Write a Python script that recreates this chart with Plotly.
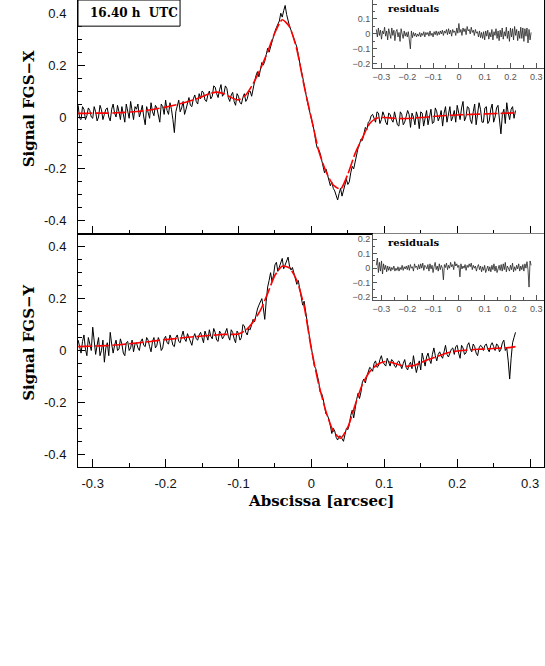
import numpy as np
import plotly.graph_objects as go

# sample grids: scans every 2 mas, residuals every 4 mas, fitted model every 10 mas
X_START, X_STEP = -0.32, 0.002
RES_START, RES_STEP = -0.32, 0.004
FIT_START, FIT_STEP = -0.32, 0.01

fgs_x = [
    0.045, -0.005, -0.01, 0.04, 0.03, -0.01, 0.005, 0.035, 0.025, 0.0,
    -0.005, 0.04, 0.02, -0.015, 0.0, 0.045, 0.028, -0.01, 0.01, 0.03,
    0.035, 0.0, -0.015, 0.03, 0.05, 0.015, 0.0, 0.045, 0.02, -0.01,
    0.04, 0.015, -0.02, 0.05, 0.025, -0.005, 0.06, 0.02, -0.01, 0.04,
    0.03, 0.05, 0.0, 0.02, 0.045, 0.0, -0.03, 0.04, 0.02, -0.005,
    0.055, 0.02, 0.005, 0.045, 0.035, 0.0, -0.02, 0.05, 0.04, 0.01,
    0.065, 0.025, 0.01, 0.055, 0.03, -0.01, -0.06, 0.02, 0.045, 0.065,
    0.02, 0.035, 0.06, 0.01, 0.03, 0.06, 0.075, 0.045, 0.04, 0.07,
    0.085, 0.06, 0.05, 0.09, 0.07, 0.1, 0.095, 0.065, 0.06, 0.085,
    0.1, 0.07, 0.08, 0.12, 0.115, 0.09, 0.075, 0.105, 0.125, 0.08,
    0.09, 0.12, 0.11, 0.075, 0.06, 0.085, 0.095, 0.06, 0.045, 0.09,
    0.08, 0.055, 0.05, 0.075, 0.09, 0.06, 0.07, 0.095, 0.1, 0.08,
    0.115, 0.135, 0.16, 0.175, 0.155, 0.19, 0.21, 0.2, 0.215, 0.24,
    0.265, 0.25, 0.27, 0.29, 0.32, 0.33, 0.345, 0.355, 0.37, 0.4,
    0.385, 0.41, 0.43, 0.395, 0.365, 0.35, 0.335, 0.32, 0.305, 0.29,
    0.27, 0.24, 0.2, 0.18, 0.155, 0.12, 0.085, 0.065, 0.04, 0.015,
    -0.01, -0.03, -0.055, -0.095, -0.12, -0.125, -0.14, -0.165, -0.19, -0.215,
    -0.2, -0.22, -0.245, -0.265, -0.25, -0.275, -0.285, -0.3, -0.32, -0.295,
    -0.275, -0.305, -0.285, -0.255, -0.24, -0.26, -0.25, -0.215, -0.19, -0.2,
    -0.17, -0.14, -0.12, -0.105, -0.085, -0.09, -0.07, -0.04, -0.05, -0.02,
    -0.015, 0.005, 0.01, -0.01, -0.02, 0.02, 0.015, -0.025, -0.01, 0.02,
    0.005, -0.02, -0.03, 0.015, 0.01, -0.01, -0.02, 0.02, 0.0, -0.03,
    -0.035, 0.02, 0.01, -0.03, -0.02, 0.0, 0.025, 0.01, -0.04, 0.015,
    0.0, -0.03, 0.02, 0.0, -0.045, 0.02, 0.015, -0.035, -0.01, 0.025,
    -0.03, 0.005, 0.03, -0.025, -0.02, 0.035, 0.02, -0.015, 0.0, 0.025,
    -0.035, 0.015, 0.04, -0.02, 0.01, 0.04, -0.015, 0.0, 0.025, -0.02,
    0.045, 0.01, -0.01, 0.035, 0.06, -0.015, 0.0, 0.04, 0.035, -0.01,
    -0.025, 0.02, 0.05, -0.03, 0.005, 0.055, 0.03, -0.02, -0.02, 0.035,
    0.04, -0.025, -0.015, 0.03, 0.05, -0.02, 0.0, 0.035, 0.045, -0.01,
    -0.065, 0.01, 0.03, -0.025, 0.055, 0.015, -0.01, 0.03, 0.04, -0.005,
    0.025,
]

fgs_y = [
    0.04, 0.02, -0.01, 0.035, 0.06, 0.005, -0.02, 0.05, 0.03, 0.0,
    0.09, 0.03, -0.015, 0.02, 0.05, -0.02, 0.0, 0.04, -0.045, 0.01,
    0.03, -0.02, 0.07, 0.025, -0.01, 0.02, 0.04, 0.0, 0.005, 0.045,
    0.025, -0.01, -0.02, 0.03, 0.035, 0.0, 0.01, 0.04, -0.005, 0.025,
    0.03, 0.01, 0.0, 0.035, 0.045, 0.02, 0.015, 0.05, 0.04, 0.015,
    -0.005, 0.035, 0.05, 0.01, 0.02, 0.05, 0.035, 0.0, 0.01, 0.045,
    0.055, 0.03, 0.025, 0.06, 0.045, 0.02, 0.015, 0.05, 0.06, 0.035,
    0.03, 0.055, 0.075, 0.045, 0.035, 0.065, 0.05, 0.03, 0.02, 0.05,
    0.065, 0.045, 0.04, 0.06, 0.07, 0.05, 0.03, 0.075, 0.06, 0.04,
    0.08, 0.055, 0.045, 0.085, 0.07, 0.04, 0.035, 0.075, 0.065, 0.045,
    0.055, 0.07, 0.085, 0.055, 0.04, 0.08, 0.07, 0.045, 0.03, 0.075,
    0.065, 0.04, 0.05, 0.1, 0.095, 0.07, 0.06, 0.085, 0.08, 0.1,
    0.12, 0.11, 0.14, 0.16, 0.175, 0.19, 0.2, 0.165, 0.12, 0.19,
    0.245, 0.27, 0.3, 0.265, 0.29, 0.33, 0.34, 0.305, 0.325, 0.34,
    0.355, 0.315, 0.33, 0.345, 0.36, 0.325, 0.31, 0.32, 0.3, 0.275,
    0.255, 0.27, 0.24, 0.205, 0.175, 0.19, 0.15, 0.1, 0.06, 0.04,
    0.01, -0.035, -0.06, -0.07, -0.09, -0.12, -0.16, -0.165, -0.185, -0.22,
    -0.245, -0.25, -0.265, -0.29, -0.32, -0.3, -0.31, -0.335, -0.345, -0.33,
    -0.33, -0.34, -0.35, -0.325, -0.3, -0.305, -0.285, -0.25, -0.23, -0.26,
    -0.22, -0.19, -0.165, -0.185, -0.16, -0.12, -0.11, -0.125, -0.1, -0.08,
    -0.065, -0.07, -0.08, -0.05, -0.04, -0.065, -0.06, -0.035, -0.02, -0.045,
    -0.055, -0.06, -0.03, -0.045, -0.06, -0.035, -0.04, -0.06, -0.065, -0.045,
    -0.04, -0.055, -0.07, -0.05, -0.035, -0.065, -0.075, -0.055, -0.045, -0.07,
    -0.02, -0.055, -0.085, -0.06, -0.04, -0.075, -0.01, -0.035, -0.06, -0.025,
    -0.01, -0.035, -0.05, -0.015, 0.01, -0.02, -0.04, -0.015, -0.005, -0.02,
    -0.03, -0.005, 0.02, -0.015, -0.025, -0.01, 0.005, 0.01, -0.015, 0.015,
    0.02, -0.01, -0.03, 0.02, 0.01, -0.015, -0.01, 0.02, 0.03, 0.005,
    -0.005, 0.025, 0.015, -0.01, -0.02, 0.01, 0.02, 0.015, 0.0, 0.02,
    0.025, 0.005, -0.005, 0.02, 0.03, 0.015, 0.0, 0.025, 0.02, -0.005,
    0.005, 0.03, 0.04, 0.0, 0.01, -0.04, -0.11, -0.03, 0.03, 0.05,
    0.07,
]

fit_x = [
    0.014, 0.014, 0.015, 0.015, 0.015, 0.016, 0.017, 0.019, 0.021, 0.024,
    0.028, 0.033, 0.038, 0.044, 0.051, 0.059, 0.068, 0.078, 0.09, 0.096,
    0.09, 0.075, 0.066, 0.085, 0.128, 0.185, 0.252, 0.325, 0.375, 0.348,
    0.26, 0.12, -0.005, -0.13, -0.21, -0.262, -0.278, -0.22, -0.14, -0.08,
    -0.025, -0.004, -0.002, -0.004, -0.006, -0.006, -0.004, -0.002, 0.0, 0.003,
    0.005, 0.007, 0.008, 0.009, 0.01, 0.011, 0.012, 0.013, 0.014, 0.015, 0.016,
]

fit_y = [
    0.015, 0.016, 0.017, 0.018, 0.019, 0.021, 0.023, 0.026, 0.029, 0.032,
    0.035, 0.039, 0.042, 0.045, 0.048, 0.051, 0.053, 0.056, 0.058, 0.06,
    0.062, 0.062, 0.064, 0.078, 0.11, 0.155, 0.22, 0.29, 0.325, 0.318,
    0.27, 0.17, 0.005, -0.13, -0.235, -0.31, -0.338, -0.295, -0.21, -0.13,
    -0.082, -0.055, -0.043, -0.046, -0.055, -0.061, -0.058, -0.047, -0.035, -0.025,
    -0.015, -0.007, -0.002, 0.001, 0.003, 0.005, 0.006, 0.008, 0.009, 0.011, 0.015,
]

resid_x = [
    0.03, -0.02, 0.04, -0.01, 0.025, -0.035, 0.02, 0.0, 0.045, -0.015,
    0.02, -0.04, 0.035, 0.005, -0.03, 0.04, -0.01, 0.025, -0.045, 0.015,
    0.03, -0.02, 0.01, -0.05, 0.035, 0.0, -0.03, 0.02, -0.015, 0.01,
    -0.02, 0.015, -0.03, -0.1, 0.02, -0.025, 0.01, -0.015, 0.005, -0.02,
    0.0, -0.015, 0.01, -0.02, 0.005, -0.01, 0.015, -0.02, 0.01, -0.005,
    0.01, -0.015, 0.02, -0.01, 0.005, -0.02, 0.015, -0.005, 0.02, -0.01,
    0.015, -0.005, 0.02, 0.0, 0.025, -0.01, 0.02, 0.005, 0.03, -0.005,
    0.035, 0.0, 0.025, -0.015, 0.03, 0.01, 0.02, -0.01, 0.04, 0.005,
    0.07, 0.01, 0.03, -0.01, 0.04, 0.015, 0.035, -0.005, 0.05, 0.02,
    0.03, 0.0, 0.045, 0.01, 0.025, -0.01, 0.03, 0.005, 0.015, -0.02,
    0.02, -0.025, 0.01, -0.03, 0.015, -0.04, 0.02, -0.015, 0.025, -0.035,
    0.01, -0.02, 0.03, -0.04, 0.015, -0.01, 0.035, -0.03, 0.02, -0.045,
    0.025, -0.02, 0.04, -0.035, 0.015, -0.015, 0.045, -0.03, 0.02, -0.05,
    0.04, -0.02, 0.035, -0.04, 0.05, -0.01, 0.03, -0.045, 0.02, -0.03,
    0.045, -0.03, 0.04, -0.05, 0.035, -0.015, 0.04, -0.06, 0.03, -0.04, 0.01,
]

resid_y = [
    0.02, 0.07, -0.03, 0.04, -0.02, 0.05, -0.04, 0.03, -0.01, 0.02,
    -0.025, 0.015, -0.015, 0.01, -0.02, 0.005, -0.01, 0.015, -0.02, 0.0,
    -0.015, 0.01, -0.02, 0.005, -0.01, 0.02, -0.015, 0.01, -0.005, 0.015,
    -0.01, 0.02, -0.015, 0.025, 0.0, 0.01, -0.02, 0.03, 0.005, 0.015,
    -0.01, 0.025, -0.005, 0.03, 0.0, 0.035, -0.015, 0.02, 0.01, -0.005,
    0.025, -0.02, 0.03, -0.005, 0.02, -0.03, 0.01, 0.04, -0.01, 0.015,
    -0.02, 0.03, -0.01, 0.02, 0.0, -0.08, 0.025, 0.005, 0.035, -0.01,
    0.02, 0.0, 0.04, 0.01, 0.025, -0.01, 0.045, 0.015, 0.03, 0.005,
    0.02, -0.06, 0.03, -0.005, 0.015, 0.0, 0.025, -0.015, 0.02, 0.005,
    0.03, 0.01, 0.035, -0.01, 0.02, 0.0, 0.015, -0.02, 0.01, 0.025,
    -0.01, 0.015, -0.025, 0.01, -0.015, 0.02, -0.03, 0.005, 0.015, -0.02,
    0.01, -0.025, 0.02, -0.01, 0.03, -0.02, 0.015, -0.03, 0.005, 0.02,
    -0.015, 0.025, -0.02, 0.03, -0.01, 0.04, -0.025, 0.015, 0.0, -0.02,
    0.02, -0.01, 0.035, -0.025, 0.01, -0.015, 0.02, -0.005, 0.03, -0.02,
    0.015, -0.01, 0.025, -0.02, 0.03, 0.0, 0.045, -0.01, -0.13, 0.05, 0.02,
]

x_ticks = [-0.3, -0.2, -0.1, 0, 0.1, 0.2, 0.3]
x_ticktext = ["-0.3", "-0.2", "-0.1", "0", "0.1", "0.2", "0.3"]
y_ticks = [-0.4, -0.2, 0, 0.2, 0.4]
y_ticktext = ["-0.4", "-0.2", "0", "0.2", "0.4"]

abscissa = X_START + X_STEP * np.arange(len(fgs_x))
res_abscissa = RES_START + RES_STEP * np.arange(len(resid_x))
fit_abscissa = FIT_START + FIT_STEP * np.arange(len(fit_x))

SERIF = "DejaVu Serif"
SANS = "Liberation Sans, Arial, sans-serif"

fig = go.Figure()
data_line = dict(color="black", width=1)
fit_line = dict(color="#ff0000", width=1.6, dash="14px,3px", shape="spline", smoothing=0.6)
res_line = dict(color="#222222", width=0.8)

fig.add_trace(go.Scatter(x=abscissa, y=fgs_x, mode="lines", line=data_line, xaxis="x", yaxis="y"))
fig.add_trace(go.Scatter(x=fit_abscissa, y=fit_x, mode="lines", line=fit_line, xaxis="x", yaxis="y"))
fig.add_trace(go.Scatter(x=abscissa, y=fgs_y, mode="lines", line=data_line, xaxis="x2", yaxis="y2"))
fig.add_trace(go.Scatter(x=fit_abscissa, y=fit_y, mode="lines", line=fit_line, xaxis="x2", yaxis="y2"))
fig.add_trace(go.Scatter(x=res_abscissa, y=resid_x, mode="lines", line=res_line, xaxis="x3", yaxis="y3"))
fig.add_trace(go.Scatter(x=res_abscissa, y=resid_y, mode="lines", line=res_line, xaxis="x4", yaxis="y4"))

main_common = dict(showline=True, mirror=True, linecolor="black", linewidth=1, automargin=False,
                   showgrid=False, zeroline=False, ticks="inside", tickcolor="black",
                   tickfont=dict(family=SANS, size=13, color="#111"))
main_x = dict(main_common, range=[-0.3202, 0.3191], tickmode="array", tickvals=x_ticks,
              ticktext=x_ticktext, ticklen=8, ticklabelstandoff=4,
              minor=dict(dtick=0.05, tick0=0, ticklen=4, ticks="inside", tickcolor="black"))
main_y = dict(main_common, range=[-0.449, 0.451], tickmode="array", tickvals=y_ticks,
              ticktext=y_ticktext, ticklen=7, ticklabelstandoff=8,
              minor=dict(dtick=0.05, tick0=0, ticklen=4, ticks="inside", tickcolor="black"))

inset_common = dict(showline=True, mirror=False, linecolor="#555", linewidth=1, automargin=False,
                    showgrid=False, zeroline=False, ticks="inside", tickcolor="#555",
                    tickfont=dict(family=SANS, size=9, color="#555"), dtick=0.1, tick0=0)
inset_x = dict(inset_common, range=[-0.333, 0.33], ticklen=5,
               minor=dict(dtick=0.05, tick0=0, ticklen=3, ticks="inside", tickcolor="#555"))
inset_y = dict(inset_common, ticklen=4,
               minor=dict(dtick=0.05, tick0=0, ticklen=2, ticks="inside", tickcolor="#555"))

fig.update_layout(
    width=545, height=666,
    margin=dict(l=78, r=1, t=0, b=199, autoexpand=False),
    paper_bgcolor="white", plot_bgcolor="white",
    showlegend=False,
    xaxis=dict(main_x, domain=[0, 1], anchor="y", showticklabels=False),
    yaxis=dict(main_y, domain=[0.5, 1], anchor="x"),
    xaxis2=dict(main_x, domain=[0, 1], anchor="y2"),
    yaxis2=dict(main_y, domain=[0, 0.5], anchor="x2"),
    xaxis3=dict(inset_x, domain=[0.633, 1], anchor="y3"),
    yaxis3=dict(inset_y, domain=[0.854, 1], anchor="x3", range=[-0.229, 0.227]),
    xaxis4=dict(inset_x, domain=[0.633, 1], anchor="y4"),
    yaxis4=dict(inset_y, domain=[0.357, 0.5], anchor="x4", range=[-0.221, 0.239]),
)

title_font = dict(family=SERIF, size=15, color="black", weight="bold")
fig.add_annotation(text="Abscissa [arcsec]", xref="paper", yref="paper", x=0.5215, y=-0.072,
                   showarrow=False, font=title_font, xanchor="center", yanchor="middle")
fig.add_annotation(text="Signal FGS\u2212X", xref="paper", yref="paper", x=-0.105, y=0.766,
                   textangle=-90, showarrow=False, font=title_font,
                   xanchor="center", yanchor="middle")
fig.add_annotation(text="Signal FGS\u2212Y", xref="paper", yref="paper", x=-0.105, y=0.266,
                   textangle=-90, showarrow=False, font=title_font,
                   xanchor="center", yanchor="middle")

# time stamp box in the upper left corner
fig.add_shape(type="rect", xref="paper", yref="paper", x0=0, x1=0.219, y0=0.944, y1=1.0,
              line=dict(color="black", width=1), fillcolor="white")
fig.add_annotation(text="16.40 h  UTC", xref="paper", yref="paper", x=0.121, y=0.972,
                   showarrow=False, font=dict(family=SERIF, size=12, color="black", weight="bold"),
                   xanchor="center", yanchor="middle")

for ypos in (0.981, 0.4815):
    fig.add_annotation(text="residuals", xref="paper", yref="paper", x=0.661, y=ypos,
                       showarrow=False, font=dict(family=SERIF, size=10, color="black", weight="bold"),
                       xanchor="left", yanchor="middle")

# the page's default body margin would push the figure 8px away from the corner
fig.write_html("out.html", config={"displayModeBar": False},
               post_script="document.body.style.margin = '0';")
